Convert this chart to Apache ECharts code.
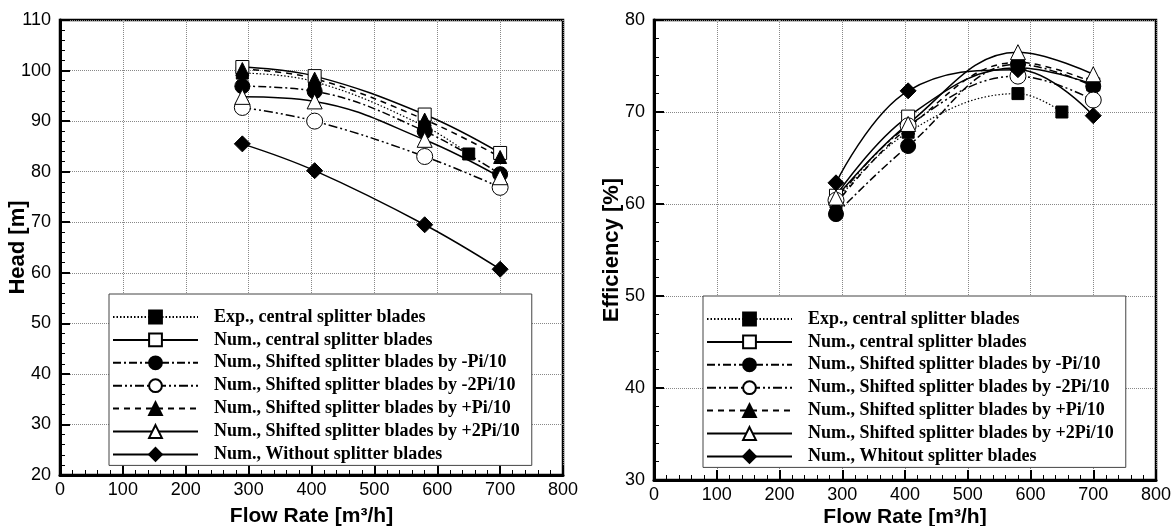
<!DOCTYPE html>
<html>
  <head>
    <meta charset="UTF-8" />
    <title>head and efficiency vs flow rate</title>
    <script src="https://cdn.jsdelivr.net/npm/echarts@6/dist/echarts.min.js"></script>
    <style>
      body { margin: 0; background: #fff; }
      #chart { width: 1175px; height: 526px; }
    </style>
  </head>
  <body>
    <div id="chart"></div>
    <script>
      // flow rates [m3/h]
      var flowRates = [290, 405, 580, 700];
      var expFlowRates = [290, 405, 580, 650];

      // Head [m]
      var headExp = [99.5, 97.8, 89.0, 83.5];
      var headCentral = [100.7, 98.9, 91.3, 83.7];
      var headMinusPi = [96.9, 95.9, 88.0, 79.5];
      var headMinus2Pi = [92.7, 90.0, 83.0, 76.9];
      var headPlusPi = [100.3, 98.4, 90.3, 82.9];
      var headPlus2Pi = [94.8, 93.9, 86.3, 78.9];
      var headWithout = [85.5, 80.2, 69.5, 60.7];

      // Efficiency [%]
      var effExp = [60.2, 67.8, 72.0, 70.0];
      var effCentral = [60.9, 69.5, 74.8, 73.0];
      var effMinusPi = [58.9, 66.3, 75.2, 72.8];
      var effMinus2Pi = [60.4, 68.5, 73.9, 71.3];
      var effPlusPi = [60.0, 68.3, 75.4, 73.2];
      var effPlus2Pi = [60.7, 68.7, 76.5, 74.1];
      var effWithout = [62.3, 72.3, 74.6, 69.6];

      var xTicks = [0, 100, 200, 300, 400, 500, 600, 700, 800];
      var headTicks = [20, 110];
      var effTicks = [30, 80];

      var names = [
        'Exp., central splitter blades',
        'Num., central splitter blades',
        'Num., Shifted splitter blades by -Pi/10',
        'Num., Shifted splitter blades by -2Pi/10',
        'Num., Shifted splitter blades by +Pi/10',
        'Num., Shifted splitter blades by +2Pi/10'
      ];
      var withoutLeft = 'Num., Without splitter blades';
      var withoutRight = 'Num., Whitout splitter blades';

      var pair = function (xs, ys) {
        return ys.map(function (v, i) {
          return [xs[i], v];
        });
      };

      // line type / marker per case
      var looks = [
        { symbol: 'rect', size: 12, fill: '#000', dash: [1.5, 2], width: 1.2 },
        { symbol: 'rect', size: 13, fill: '#fff', dash: 'solid', width: 1.5 },
        { symbol: 'circle', size: 15, fill: '#000', dash: [8, 3, 2, 3], width: 1.5 },
        { symbol: 'circle', size: 16, fill: '#fff', dash: [9, 3, 2, 3, 2, 3], width: 1.5 },
        { symbol: 'triangle', size: 13, fill: '#000', dash: [6, 5], width: 1.5 },
        { symbol: 'triangle', size: 15, fill: '#fff', dash: 'solid', width: 1.5 },
        { symbol: 'diamond', size: 16, fill: '#000', dash: 'solid', width: 1.5 }
      ];

      var makeSeries = function (name, look, data, idx) {
        return {
          name: name,
          type: 'line',
          xAxisIndex: idx,
          yAxisIndex: idx,
          data: data,
          smooth: 0.4,
          symbol: look.symbol,
          symbolSize: look.size,
          showAllSymbol: true,
          itemStyle: { color: look.fill, borderColor: '#000', borderWidth: 1 },
          lineStyle: { color: '#000', width: look.width, type: look.dash }
        };
      };

      var headSets = [headExp, headCentral, headMinusPi, headMinus2Pi, headPlusPi, headPlus2Pi, headWithout];
      var effSets = [effExp, effCentral, effMinusPi, effMinus2Pi, effPlusPi, effPlus2Pi, effWithout];

      var series = [];
      headSets.forEach(function (ys, i) {
        var xs = i === 0 ? expFlowRates : flowRates;
        series.push(makeSeries(i === 6 ? withoutLeft : names[i], looks[i], pair(xs, ys), 0));
      });
      effSets.forEach(function (ys, i) {
        var xs = i === 0 ? expFlowRates : flowRates;
        series.push(makeSeries(i === 6 ? withoutRight : names[i], looks[i], pair(xs, ys), 1));
      });

      var labelFont = { color: '#000', fontSize: 18, fontFamily: 'Liberation Sans' };
      var xNameFont = { color: '#000', fontSize: 21, fontWeight: 'bold', fontFamily: 'Liberation Sans' };
      var yNameFont = { color: '#000', fontSize: 22, fontWeight: 'bold', fontFamily: 'Liberation Sans' };

      var xAxisOf = function (idx, gap) {
        return {
          gridIndex: idx,
          type: 'value',
          min: xTicks[0],
          max: xTicks[xTicks.length - 1],
          interval: 100,
          name: 'Flow Rate [m³/h]',
          nameLocation: 'middle',
          nameGap: gap,
          nameMoveOverlap: false,
          nameTextStyle: xNameFont,
          axisLine: { lineStyle: { color: '#000', width: 3 } },
          axisTick: { inside: true, length: 10, lineStyle: { color: '#000', width: 2 } },
          minorTick: { show: true, splitNumber: 5, length: 5, lineStyle: { color: '#000', width: 1 } },
          axisLabel: Object.assign({ margin: 6 }, labelFont),
          splitLine: { show: true, lineStyle: { color: '#888', type: 'dotted', width: 1 } }
        };
      };

      var yAxisOf = function (idx, ticks, name, gap) {
        return {
          gridIndex: idx,
          type: 'value',
          min: ticks[0],
          max: ticks[1],
          interval: 10,
          name: name,
          nameLocation: 'middle',
          nameGap: gap,
          nameMoveOverlap: false,
          nameRotate: 90,
          nameTextStyle: yNameFont,
          axisLine: { lineStyle: { color: '#000', width: 3 } },
          axisTick: { inside: true, length: 10, lineStyle: { color: '#000', width: 2 } },
          minorTick: { show: true, splitNumber: 5, length: 5, lineStyle: { color: '#000', width: 1 } },
          axisLabel: Object.assign({ margin: 9 }, labelFont),
          splitLine: { show: true, lineStyle: { color: '#888', type: 'dotted', width: 1 } }
        };
      };

      var legendOf = function (left, top, list) {
        return {
          orient: 'vertical',
          left: left,
          top: top,
          data: list,
          selectedMode: false,
          backgroundColor: '#fff',
          borderColor: '#444',
          borderWidth: 1,
          padding: [14, 12, 2, 3],
          itemWidth: 85,
          itemHeight: 16,
          itemGap: 4.9,
          textStyle: {
            color: '#000',
            fontSize: 18,
            fontWeight: 'bold',
            fontFamily: 'Liberation Serif',
            lineHeight: 16,
            padding: [0, 0, 0, 11]
          }
        };
      };

      var chart = echarts.init(document.getElementById('chart'));
      chart.setOption({
        animation: false,
        backgroundColor: '#fff',
        grid: [
          { left: 60, right: 612, top: 20, bottom: 51, outerBoundsMode: 'none', show: true, borderColor: '#000', borderWidth: 2.5 },
          { left: 654, right: 19, top: 20, bottom: 46, outerBoundsMode: 'none', show: true, borderColor: '#000', borderWidth: 2.5 }
        ],
        xAxis: [xAxisOf(0, 31), xAxisOf(1, 27)],
        yAxis: [yAxisOf(0, headTicks, 'Head [m]', 31), yAxisOf(1, effTicks, 'Efficiency [%]', 31)],
        legend: [
          legendOf(109, 294, names.concat([withoutLeft])),
          legendOf(703, 296, names.concat([withoutRight]))
        ],
        series: series
      });
    </script>
  </body>
</html>
